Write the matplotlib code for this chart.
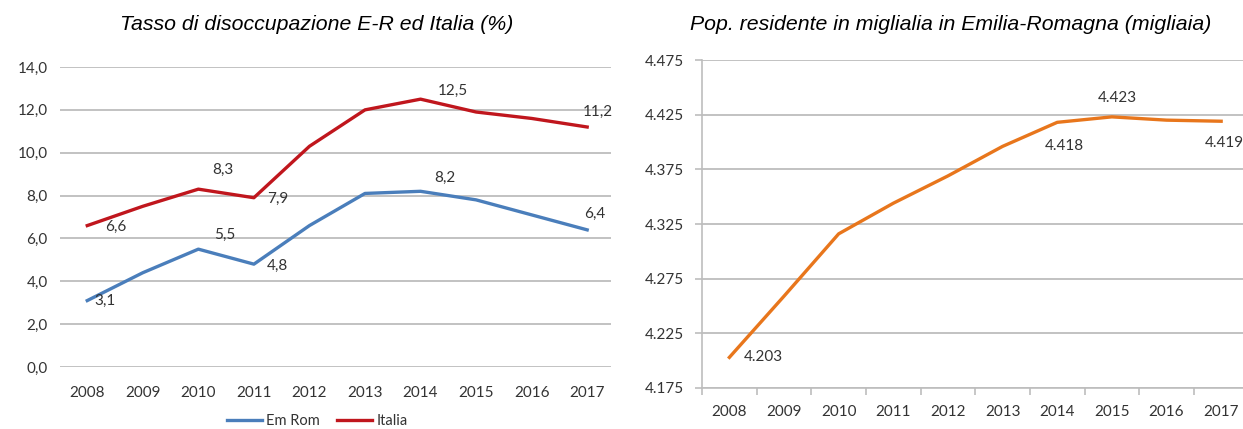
import numpy as np
import matplotlib.pyplot as plt

# Data
anni = ['2008', '2009', '2010', '2011', '2012', '2013', '2014', '2015', '2016', '2017']
em_rom = [3.1, 4.4, 5.5, 4.8, 6.6, 8.1, 8.2, 7.8, 7.1, 6.4]
italia = [6.6, 7.5, 8.3, 7.9, 10.3, 12.0, 12.5, 11.9, 11.6, 11.2]
pop_er = [4.203, 4.259, 4.316, 4.344, 4.369, 4.396, 4.418, 4.423, 4.420, 4.419]

# labels shown on the charts: (series, index, dx px, dy px)
lab_left = [('it', 0, 28, -1), ('it', 2, 25, 19), ('it', 3, 24, -1),
            ('it', 6, 32, 8), ('it', 9, 11, 15),
            ('er', 0, 18, 0), ('er', 2, 26, 14), ('er', 3, 24, -2),
            ('er', 6, 24, 13), ('er', 9, 8, 16)]
lab_right = [(0, 34, 0), (6, 7, -24), (7, 5, 19), (9, 3, -22)]

c_red = '#c0161d'
c_blue = '#4a7ebb'
c_orange = '#e8761c'
c_grid = '#bdbdbd'
c_txt = '#333333'
tick_font = 'Lato'
px = 0.72  # pixels -> points at 100 dpi

fig = plt.figure(figsize=(12.43, 4.29), dpi=100)
x = np.arange(len(anni))

# ---- left chart
ax1 = fig.add_axes([0.0483, 0.1445, 0.4433, 0.6993])
ax1.plot(x, em_rom, color=c_blue, lw=2.4, label='Em Rom')
ax1.plot(x, italia, color=c_red, lw=2.4, label='Italia')
ax1.set_xlim(-0.49, 9.43)
ax1.set_ylim(0, 14)
ax1.set_yticks(np.arange(0, 15, 2))
ax1.set_yticklabels([('%.1f' % v).replace('.', ',') for v in np.arange(0, 15, 2)],
                    fontsize=11, family=tick_font, color=c_txt)
ax1.set_xticks(x)
ax1.set_xticklabels(anni, fontsize=11, family=tick_font, color=c_txt)
ax1.tick_params(axis='both', length=0)
ax1.tick_params(axis='x', pad=13.5)
ax1.tick_params(axis='y', pad=9)
ax1.grid(axis='y', color=c_grid, lw=1.3)
ax1.set_axisbelow(True)
for s in ax1.spines.values():
    s.set_visible(False)
for ser, i, dx, dy in lab_left:
    v = italia[i] if ser == 'it' else em_rom[i]
    ax1.annotate(('%.1f' % v).replace('.', ','), (x[i], v), xytext=(dx * px, dy * px),
                 textcoords='offset points', ha='center', va='center', fontsize=11,
                 family=tick_font, color=c_txt)
leg = ax1.legend(loc='center', bbox_to_anchor=(0.467, -0.18), ncol=2, frameon=False,
                 handlelength=2.4, handletextpad=0.3, columnspacing=1.2,
                 prop={'family': tick_font, 'size': 10.5})
for t in leg.get_texts():
    t.set_color(c_txt)
fig.text(0.255, 0.942, 'Tasso di disoccupazione E-R ed Italia (%)', ha='center', va='center',
         fontsize=15.3, style='italic', family='Liberation Sans')

# ---- right chart
ax2 = fig.add_axes([0.5648, 0.0956, 0.4352, 0.7645])
ax2.plot(x, pop_er, color=c_orange, lw=2.4)
ax2.set_xlim(-0.5, 9.4)
ax2.set_ylim(4.175, 4.475)
yt = np.arange(4.175, 4.4751, 0.05)
ax2.set_yticks(yt)
ax2.set_yticklabels(['%.3f' % v for v in yt], fontsize=11, family=tick_font, color=c_txt)
ax2.set_xticks(x)
ax2.set_xticklabels(anni, fontsize=11, family=tick_font, color=c_txt)
ax2.set_xticks(x - 0.5, minor=True)
ax2.tick_params(axis='x', which='major', length=0, pad=12)
ax2.tick_params(axis='x', which='minor', length=5, color=c_grid, width=1.2)
ax2.tick_params(axis='y', length=5, color=c_grid, width=1.2, pad=8)
ax2.grid(axis='y', color=c_grid, lw=1.3)
ax2.set_axisbelow(True)
for k in ['top', 'right']:
    ax2.spines[k].set_visible(False)
for k in ['left', 'bottom']:
    ax2.spines[k].set_color(c_grid)
    ax2.spines[k].set_linewidth(1.2)
for i, dx, dy in lab_right:
    ax2.annotate(('%.3f' % pop_er[i]), (x[i], pop_er[i]), xytext=(dx * px, dy * px),
                 textcoords='offset points', ha='center', va='center', fontsize=11,
                 family=tick_font, color=c_txt, annotation_clip=False)
fig.text(0.765, 0.942, 'Pop. residente in miglialia in Emilia-Romagna (migliaia)', ha='center',
         va='center', fontsize=15.3, style='italic', family='Liberation Sans')

fig.savefig('out.png', dpi=100)
